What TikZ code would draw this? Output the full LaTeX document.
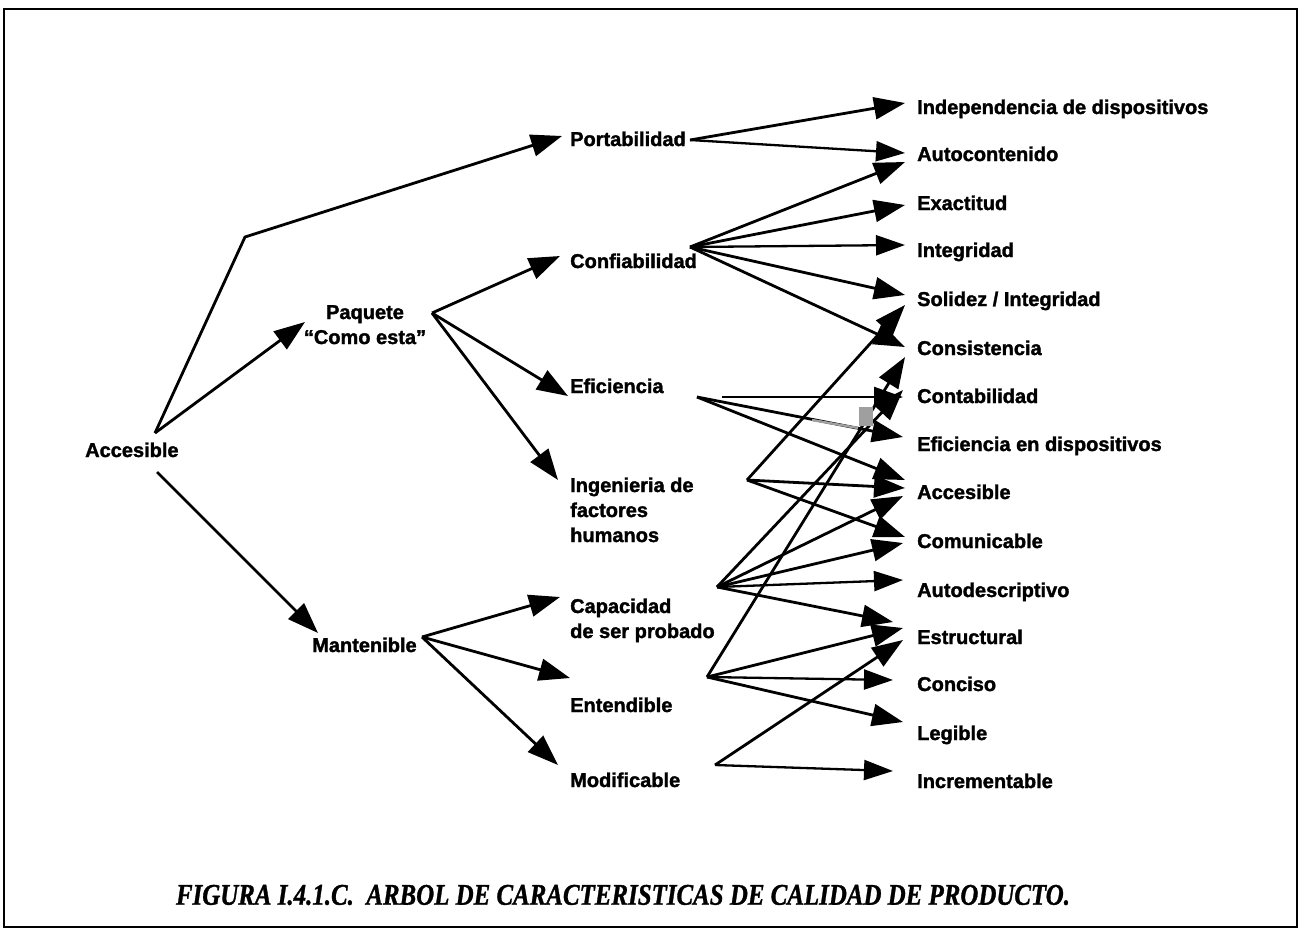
\documentclass[tikz,border=0pt]{standalone}
\usepackage{fontspec}
\usepackage{graphicx}
\setmainfont{Liberation Sans}[BoldFeatures={FakeBold=1.6}]
\newfontfamily\capfont{Liberation Serif}[BoldItalicFeatures={FakeBold=1.2}]
\usetikzlibrary{arrows.meta,calc}
\begin{document}
\begin{tikzpicture}[x=1pt,y=-1pt,
  lbl/.style={anchor=base west, inner sep=0pt, font=\fontsize{20}{25}\selectfont\bfseries},
  arr/.style={line width=2.8pt, line join=round, -{Triangle[length=31pt,width=22pt]}},
  thinarr/.style={line width=2.3pt, -{Triangle[length=29pt,width=20pt]}}]
\useasboundingbox (0,0) rectangle (1300,937);
\fill[white] (0,0) rectangle (1300,937);
\draw[line width=1.3pt] (4,9) rectangle (1297,927);

% left nodes
\node[lbl] (accL) at (85,457) {Accesible};
\node[lbl, anchor=base] (paq) at (365,319) {\begin{tabular}[t]{@{}c@{}}Paquete\\“Como esta”\end{tabular}};
\node[lbl] (man) at (312,652) {Mantenible};

% middle nodes
\node[lbl] (por) at (570,146) {Portabilidad};
\node[lbl] (con) at (570,268) {Confiabilidad};
\node[lbl] (efi) at (570,393) {Eficiencia};
\node[lbl] (ing) at (570,492) {\begin{tabular}[t]{@{}l@{}}Ingenieria de\\factores\\humanos\end{tabular}};
\node[lbl] (cap) at (570,613) {\begin{tabular}[t]{@{}l@{}}Capacidad\\de ser probado\end{tabular}};
\node[lbl] (ent) at (570,712) {Entendible};
\node[lbl] (mod) at (570,787) {Modificable};

% right nodes
\node[lbl] (r1) at (917,114) {Independencia de dispositivos};
\node[lbl] (r2) at (917,161) {Autocontenido};
\node[lbl] (r3) at (917,210) {Exactitud};
\node[lbl] (r4) at (917,257) {Integridad};
\node[lbl] (r5) at (917,306) {Solidez / Integridad};
\node[lbl] (r6) at (917,355) {Consistencia};
\node[lbl] (r7) at (917,403) {Contabilidad};
\node[lbl] (r8) at (917,451) {Eficiencia en dispositivos};
\node[lbl] (r9) at (917,499) {Accesible};
\node[lbl] (r10) at (917,548) {Comunicable};
\node[lbl] (r11) at (917,597) {Autodescriptivo};
\node[lbl] (r12) at (917,644) {Estructural};
\node[lbl] (r13) at (917,691) {Conciso};
\node[lbl] (r14) at (917,740) {Legible};
\node[lbl] (r15) at (917,788) {Incrementable};

% caption
\node[inner sep=0pt] (titulo) at (623,895) {\capfont\fontsize{30}{32}\selectfont\bfseries\itshape\resizebox{894pt}{\height}{FIGURA I.4.1.C.\ \ ARBOL DE CARACTERISTICAS DE CALIDAD DE PRODUCTO.}};

% ports
\coordinate (acc-o1) at ($(accL.base west)+(70,-24)$);
\coordinate (acc-o2) at ($(accL.base west)+(72,15)$);
\coordinate (bend) at (245,237);
\coordinate (paq-i) at ($(paq.base)+(-60,3)$);
\coordinate (paq-o) at ($(paq.base)+(67,-6)$);
\coordinate (man-i) at ($(man.base west)+(6,-19)$);
\coordinate (man-o) at ($(man.base west)+(110,-15)$);
\coordinate (por-i) at ($(por.base west)+(-8,-10)$);
\coordinate (por-o) at ($(por.base west)+(120,-6)$);
\coordinate (con-i) at ($(con.base west)+(-10,-12)$);
\coordinate (con-o) at ($(con.base west)+(120,-21)$);
\coordinate (efi-i) at ($(efi.base west)+(-2,3)$);
\coordinate (efi-o) at ($(efi.base west)+(127,4)$);
\coordinate (efi-h) at ($(efi.base west)+(152,4)$);
\coordinate (ing-i) at ($(ing.base west)+(-12,-12)$);
\coordinate (ing-o) at ($(ing.base west)+(177,-12)$);
\coordinate (cap-i) at ($(cap.base west)+(-10,-16)$);
\coordinate (cap-o) at ($(cap.base west)+(147,-26)$);
\coordinate (ent-i) at ($(ent.base west)+(0,-34)$);
\coordinate (ent-o) at ($(ent.base west)+(137,-35)$);
\coordinate (mod-i) at ($(mod.base west)+(-12,-22)$);
\coordinate (mod-o) at ($(mod.base west)+(145,-22)$);

% first levels
\draw[arr] (acc-o1) -- (bend) -- (por-i);
\draw[arr] (acc-o1) -- (paq-i);
\draw[arr] (acc-o2) -- (man-i);
\draw[arr] (paq-o) -- (con-i);
\draw[arr] (paq-o) -- (efi-i);
\draw[arr] (paq-o) -- (ing-i);
\draw[arr] (man-o) -- (cap-i);
\draw[arr] (man-o) -- (ent-i);
\draw[arr] (man-o) -- (mod-i);

% Portabilidad
\draw[arr] (por-o) -- ($(r1.base west)+(-12,-11)$);
\draw[thinarr] (por-o) -- ($(r2.base west)+(-12,-8)$);
% Confiabilidad
\draw[arr] (con-o) -- ($(r2.base west)+(-12,1)$);
\draw[arr] (con-o) -- ($(r3.base west)+(-12,-5)$);
\draw[thinarr] (con-o) -- ($(r4.base west)+(-12,-12)$);
\draw[arr] (con-o) -- ($(r5.base west)+(-12,-11)$);
\draw[arr] (con-o) -- ($(r6.base west)+(-12,-8)$);
% Eficiencia
\draw[thinarr] (efi-h) -- ($(r7.base west)+(-14,-6)$);
\draw[arr] (efi-o) -- ($(r8.base west)+(-14,-14)$);
\draw[arr] (efi-o) -- ($(r9.base west)+(-12,-19)$);
% Ingenieria
\draw[arr] (ing-o) -- ($(r5.base west)+(-12,-1)$);
\draw[arr] (ing-o) -- ($(r9.base west)+(-12,-11)$);
\draw[arr] (ing-o) -- ($(r10.base west)+(-12,-11)$);
% Capacidad
\draw[arr] (cap-o) -- ($(r7.base west)+(-14,-13)$);
\draw[arr] (cap-o) -- ($(r9.base west)+(-14,-3)$);
\draw[arr] (cap-o) -- ($(r10.base west)+(-14,-5)$);
\draw[thinarr] (cap-o) -- ($(r11.base west)+(-14,-17)$);
\draw[arr] (cap-o) -- ($(r12.base west)+(-24,-22)$);
% Entendible
\draw[arr] (ent-o) -- ($(r6.base west)+(-12,2)$);
\draw[arr] (ent-o) -- ($(r12.base west)+(-14,-16)$);
\draw[thinarr] (ent-o) -- ($(r13.base west)+(-24,-11)$);
\draw[arr] (ent-o) -- ($(r14.base west)+(-14,-18)$);
% Modificable
\draw[arr] (mod-o) -- ($(r12.base west)+(-14,-4)$);
\draw[thinarr] (mod-o) -- ($(r15.base west)+(-24,-17)$);

% scan artefact
\draw[gray!75, line width=2.4pt] (812,420) -- (858,428);
\fill[gray!75] (859,407) rectangle (873,426);
\end{tikzpicture}
\end{document}
